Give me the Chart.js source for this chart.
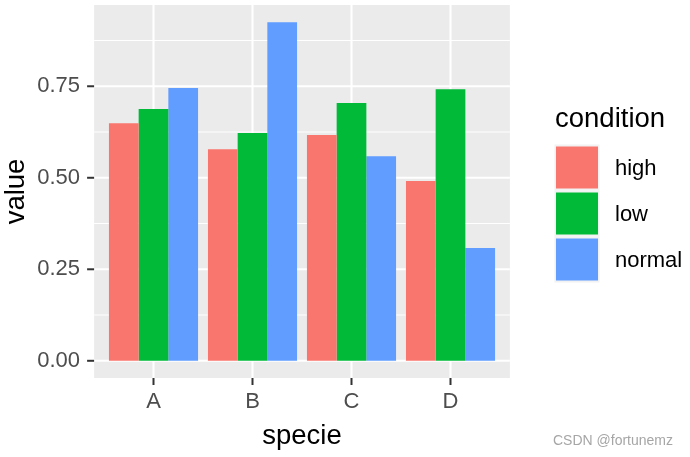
<!DOCTYPE html>
<html>
<head>
<meta charset="utf-8">
<script src="https://cdn.jsdelivr.net/npm/chart.js@4"></script>
<style>
  html, body { margin: 0; padding: 0; background: #fff; }
  canvas { display: block; }
</style>
</head>
<body>
<canvas id="c" width="690" height="457"></canvas>
<script>
// ============ Data ============
const species = ['A', 'B', 'C', 'D'];
const conditions = ['high', 'low', 'normal'];
const highValues = [0.649, 0.578, 0.617, 0.491];
const lowValues = [0.688, 0.622, 0.704, 0.742];
const normalValues = [0.745, 0.925, 0.559, 0.308];
const yTicks = [0, 0.25, 0.5, 0.75];
const yMinorTicks = [0.125, 0.375, 0.625, 0.875];

const colors = ['#F8766D', '#00BA38', '#619CFF'];
const FONT = '"Liberation Sans", Arial, sans-serif';

// ============ ggplot-ish panel, grid, ticks, legend ============
const ggPanel = {
    id: 'ggPanel',
    beforeDatasetsDraw(chart) {
        const { ctx, chartArea: a, scales: { x, y } } = chart;
        const ext = (x.getPixelForValue(1) - x.getPixelForValue(0)) * 0.1;
        const L = a.left - ext, R = a.right + ext;
        ctx.save();
        ctx.fillStyle = '#EBEBEB';
        ctx.fillRect(L, a.top, R - L, a.bottom - a.top);
        ctx.strokeStyle = '#FFFFFF';
        ctx.lineWidth = 1.05;
        yMinorTicks.forEach(v => {
            const py = y.getPixelForValue(v);
            ctx.beginPath(); ctx.moveTo(L, py); ctx.lineTo(R, py); ctx.stroke();
        });
        ctx.lineWidth = 2.1;
        yTicks.forEach(v => {
            const py = y.getPixelForValue(v);
            ctx.beginPath(); ctx.moveTo(L, py); ctx.lineTo(R, py); ctx.stroke();
        });
        species.forEach((s, i) => {
            const px = x.getPixelForValue(i);
            ctx.beginPath(); ctx.moveTo(px, a.top); ctx.lineTo(px, a.bottom); ctx.stroke();
        });
        // axis tick marks
        ctx.strokeStyle = '#333333';
        ctx.lineWidth = 2;
        yTicks.forEach(v => {
            const py = y.getPixelForValue(v);
            ctx.beginPath(); ctx.moveTo(L - 7, py); ctx.lineTo(L, py); ctx.stroke();
        });
        species.forEach((s, i) => {
            const px = x.getPixelForValue(i);
            ctx.beginPath(); ctx.moveTo(px, a.bottom); ctx.lineTo(px, a.bottom + 7); ctx.stroke();
        });
        ctx.restore();
    },
    afterDraw(chart) {
        const { ctx } = chart;
        ctx.save();
        // legend
        ctx.fillStyle = '#000';
        ctx.font = '27.5px ' + FONT;
        ctx.textAlign = 'left';
        ctx.textBaseline = 'alphabetic';
        ctx.fillText('condition', 555, 126.5);
        ctx.font = '22px ' + FONT;
        ctx.textBaseline = 'middle';
        chart.data.datasets.forEach((ds, i) => {
            const ky = 144.5 + i * 46;
            ctx.fillStyle = '#F2F2F2';
            ctx.fillRect(554.5, ky, 45, 46);
            ctx.fillStyle = ds.backgroundColor;
            ctx.fillRect(556, ky + 2, 42, 42);
            ctx.fillStyle = '#000';
            ctx.fillText(ds.label, 615, ky + 24);
        });
        // watermark
        ctx.fillStyle = '#A6A6A6';
        ctx.font = '14px ' + FONT;
        ctx.textBaseline = 'middle';
        ctx.fillText('CSDN @fortunemz', 553, 441);
        ctx.restore();
    }
};

new Chart(document.getElementById('c'), {
    type: 'bar',
    data: {
        labels: species,
        datasets: [
            { label: conditions[0], data: highValues, backgroundColor: colors[0] },
            { label: conditions[1], data: lowValues, backgroundColor: colors[1] },
            { label: conditions[2], data: normalValues, backgroundColor: colors[2] }
        ]
    },
    options: {
        responsive: false,
        animation: false,
        devicePixelRatio: 1,
        layout: { padding: { left: 0, top: 5, right: 190, bottom: 0 } },
        datasets: { bar: { categoryPercentage: 0.9, barPercentage: 1.0, borderWidth: 0 } },
        plugins: { legend: { display: false }, tooltip: { enabled: false } },
        scales: {
            x: {
                offset: true,
                grid: { display: false, drawTicks: false },
                border: { display: false },
                ticks: { color: '#4D4D4D', font: { family: FONT, size: 22 }, padding: 11, maxRotation: 0 },
                title: { display: true, text: 'specie', color: '#000', font: { family: FONT, size: 27.5 }, padding: { top: 0, bottom: 4.5 } },
                afterFit(scale) {
                    scale.height = 79;
                    scale.paddingLeft = 0; scale.paddingRight = 0;
                }
            },
            y: {
                min: -0.047,
                max: 0.972,
                grid: { display: false, drawTicks: false },
                border: { display: false },
                afterBuildTicks(scale) { scale.ticks = yTicks.map(v => ({ value: v })); },
                ticks: {
                    color: '#4D4D4D', font: { family: FONT, size: 22 }, padding: 24,
                    callback: v => Number(v).toFixed(2)
                },
                title: { display: true, text: 'value', color: '#000', font: { family: FONT, size: 27.5 }, padding: { top: 0, bottom: 0 } },
                afterFit(scale) {
                    scale.width = 104;
                    scale.paddingTop = 0; scale.paddingBottom = 0;
                }
            }
        }
    },
    plugins: [ggPanel]
});
</script>
</body>
</html>
